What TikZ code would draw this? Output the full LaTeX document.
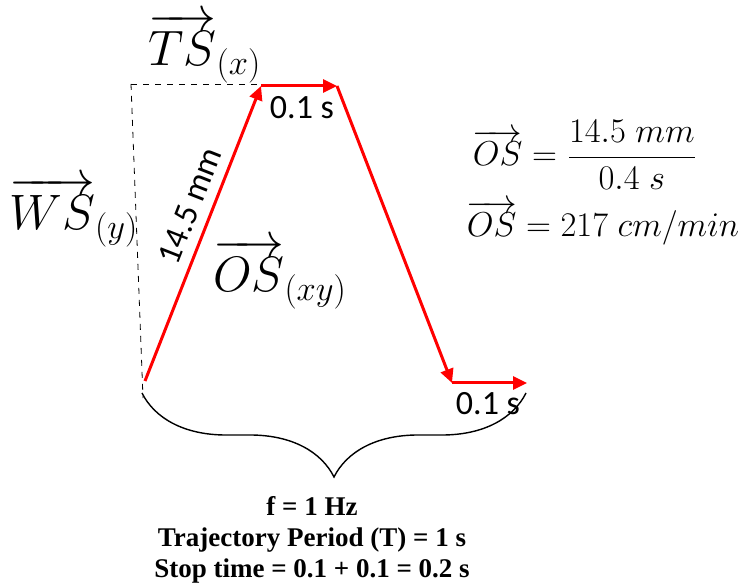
\documentclass[tikz,border=0pt]{standalone}
\usepackage{amsmath}
\usepackage{fontspec}
\setmainfont{Liberation Serif}
\newfontfamily\calibri{Carlito}
\usetikzlibrary{arrows.meta, decorations.pathreplacing, positioning}

\tikzset{
  redpath/.style={red, line width=1.5pt, -{Triangle[length=7pt, width=6.5pt]}},
  guide/.style={black, dashed, line width=0.4pt},
  lbl/.style={font=\calibri\fontsize{17}{20}\selectfont, inner sep=1pt},
  vec/.style={font=\fontsize{23}{26}\selectfont, inner sep=1pt},
  eqn/.style={font=\fontsize{19}{23}\selectfont, inner sep=1pt},
  info/.style={font=\bfseries\fontsize{13.5}{15.5}\selectfont, align=center}
}

\begin{document}
\begin{tikzpicture}[x=0.5pt, y=-0.5pt]
    \useasboundingbox (0,0) rectangle (755,587);

    % trajectory corners
    \coordinate (start) at (145,381);
    \coordinate (top1) at (261,86);
    \coordinate (top2) at (337,86);
    \coordinate (bot1) at (452,383);
    \coordinate (bot2) at (527,383);
    \coordinate (corner) at (131,84);
    \coordinate (foot) at (143,398);

    % components
    \draw [guide] (corner) -- (258,84);
    \draw [guide] (corner) -- (foot);

    % trajectory
    \draw [redpath] (start) -- (top1);
    \draw [redpath] (top1) -- (top2);
    \draw [redpath] (top2) -- (bot1);
    \draw [redpath] (bot1) -- (bot2);

    % period brace
    \coordinate (braceL) at (142,393);
    \coordinate (braceR) at (526,393);
    \draw [line width=0.7pt, decorate, decoration={brace, mirror, amplitude=42pt}] (braceL) -- (braceR);

    % labels
    \node (ts) [vec] at (205,48) {$\overrightarrow{TS}_{(x)}$};
    \node (ws) [vec] at (74,212) {$\overrightarrow{WS}_{(y)}$};
    \node (os) [vec] at (280,274) {$\overrightarrow{OS}_{(xy)}$};
    \node (dist) [lbl, rotate=68.5] at (190,206) {14.5 mm};
    \node (stop1) [lbl] at (302,108) {0.1 s};
    \node (stop2) [lbl] at (488,404) {0.1 s};

    \node (eq1) [eqn] at (585,155) {$\overrightarrow{OS} = \dfrac{14.5\ mm}{0.4\ s}$};
    \node (eq2) [eqn] at (603,223) {$\overrightarrow{OS} = 217\ cm/min$};

    \node (period) [info] at (312,540) {f = 1 Hz\\Trajectory Period (T) = 1 s\\Stop time = 0.1 + 0.1 = 0.2 s};
\end{tikzpicture}
\end{document}
